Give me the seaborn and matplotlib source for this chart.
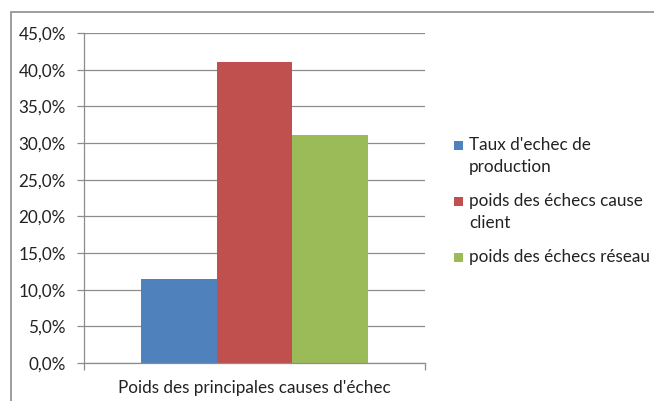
import matplotlib
matplotlib.use("Agg")
import matplotlib.pyplot as plt
import seaborn as sns
import pandas as pd
from matplotlib.patches import Rectangle
from matplotlib.ticker import FuncFormatter, FixedLocator

# chart values
category = ["Poids des principales causes d'échec"]
series = ["Taux d'echec de\nproduction", "poids des échecs cause\nclient", "poids des échecs réseau"]
values = [11.5, 41.0, 31.1]
colors = ["#4F81BD", "#C0504D", "#9BBB59"]
y_ticks = [0, 5, 10, 15, 20, 25, 30, 35, 40, 45]

df = pd.DataFrame({"cat": category * len(series), "serie": series, "val": values})

sns.set_style("white")
plt.rcParams["font.family"] = ["Lato", "DejaVu Sans"]

W, H = 654, 401
fig = plt.figure(figsize=(W / 100, H / 100), dpi=100)
ax = fig.add_axes([84 / W, 1 - 363 / H, 341 / W, 330 / H])

sns.barplot(data=df, x="cat", y="val", hue="serie", palette=colors,
            width=0.663, gap=0, saturation=1, ax=ax, legend=False, edgecolor="none")

ax.set_xlim(-0.5, 0.5)
ax.set_ylim(0, 45)
ax.set_yticks(y_ticks)
ax.yaxis.set_major_formatter(FuncFormatter(lambda v, p: f"{v:.1f}%".replace(".", ",")))
ax.grid(axis="y", color="#8c8c8c", linewidth=0.9)
ax.set_axisbelow(True)
for s in ["top", "right"]:
    ax.spines[s].set_visible(False)
for s in ["left", "bottom"]:
    ax.spines[s].set_color("#8c8c8c")
    ax.spines[s].set_linewidth(0.9)
ax.set_xlabel("")
ax.set_ylabel("")
ax.tick_params(axis="y", left=True, length=5, width=0.9, color="#8c8c8c", pad=8,
               labelsize=12.3, labelcolor="#222222")
ax.tick_params(axis="x", which="major", length=0, pad=12, labelsize=12.3, labelcolor="#222222")
ax.xaxis.set_minor_locator(FixedLocator([-0.5, 0.5]))
ax.tick_params(axis="x", which="minor", bottom=True, length=5, width=0.9, color="#8c8c8c")

# chart area frame
fig.patches.append(Rectangle((11 / W, -0.1), 2, 1 - 12 / H + 0.1, transform=fig.transFigure,
                             fill=False, edgecolor="#8c8c8c", linewidth=1.2))

# legend: square aligned with the first line of each label
line_h = 21
y = 146
for label, c in zip(series, colors):
    fig.patches.append(Rectangle((454 / W, 1 - (y + 4) / H), 9 / W, 9 / H,
                                 transform=fig.transFigure, facecolor=c, edgecolor="none"))
    fig.text(469 / W, 1 - (y - 9) / H, label, ha="left", va="top", fontsize=12.3,
             color="#222222", linespacing=1.5)
    y += line_h * label.count("\n") + 35

fig.savefig("out.png", dpi=100)
